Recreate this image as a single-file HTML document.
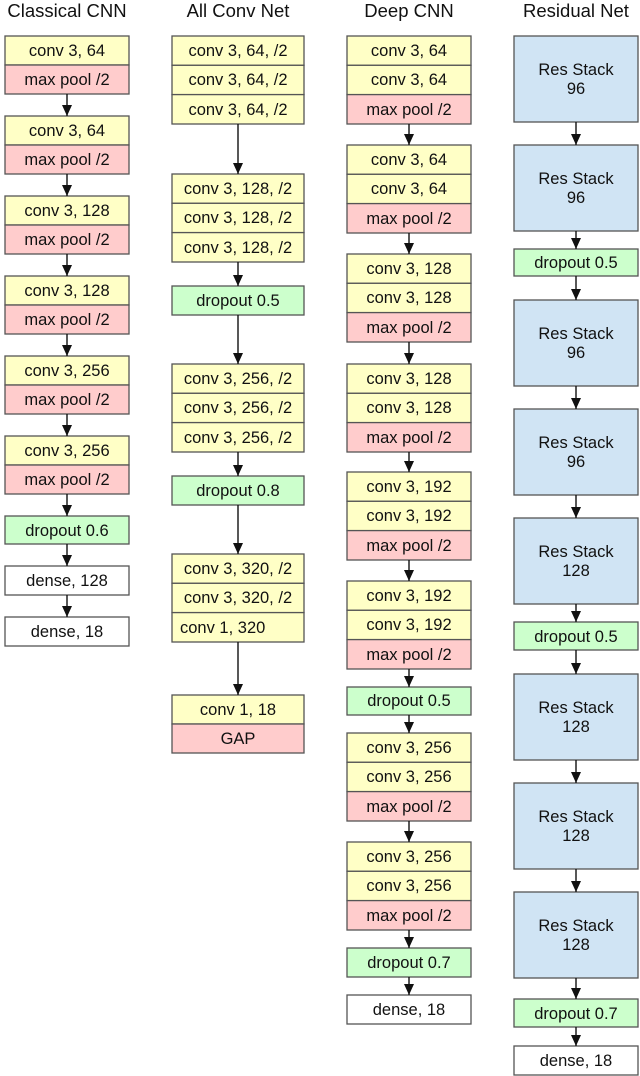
<!DOCTYPE html>
<html><head><meta charset="utf-8"><style>
html,body{margin:0;padding:0;background:#fff;}
svg{display:block;}
text{font-family:"Liberation Sans",Arial,sans-serif;font-size:16.5px;fill:#111;text-anchor:middle;}
.t{font-size:18.5px;}
.y{fill:#ffffc6;stroke:#555;stroke-width:1.3;}
.p{fill:#ffcccc;stroke:#555;stroke-width:1.3;}
.g{fill:#ccffcc;stroke:#555;stroke-width:1.3;}
.w{fill:#ffffff;stroke:#555;stroke-width:1.3;}
.b{fill:#d0e4f4;stroke:#555;stroke-width:1.3;}
.l{stroke:#111;stroke-width:1.4;}
</style></head><body>
<svg width="640" height="1076" viewBox="0 0 640 1076" xmlns="http://www.w3.org/2000/svg">
<defs><marker id="a" markerWidth="11" markerHeight="10" refX="11" refY="5" orient="auto" markerUnits="userSpaceOnUse"><path d="M0,0 L11,5 L0,10 z" fill="#111"/></marker></defs>
<text class="t" x="67" y="17">Classical CNN</text>
<text class="t" x="238" y="17">All Conv Net</text>
<text class="t" x="409" y="17">Deep CNN</text>
<text class="t" x="576" y="17">Residual Net</text>

<!-- Classical -->
<rect class="y" x="5" y="36" width="124" height="29"/><text x="67" y="56">conv 3, 64</text>
<rect class="p" x="5" y="65" width="124" height="29"/><text x="67" y="85">max pool /2</text>
<rect class="y" x="5" y="116" width="124" height="29"/><text x="67" y="136">conv 3, 64</text>
<rect class="p" x="5" y="145" width="124" height="29"/><text x="67" y="165">max pool /2</text>
<rect class="y" x="5" y="196" width="124" height="29"/><text x="67" y="216">conv 3, 128</text>
<rect class="p" x="5" y="225" width="124" height="29"/><text x="67" y="245">max pool /2</text>
<rect class="y" x="5" y="276" width="124" height="29"/><text x="67" y="296">conv 3, 128</text>
<rect class="p" x="5" y="305" width="124" height="29"/><text x="67" y="325">max pool /2</text>
<rect class="y" x="5" y="356" width="124" height="29"/><text x="67" y="376">conv 3, 256</text>
<rect class="p" x="5" y="385" width="124" height="29"/><text x="67" y="405">max pool /2</text>
<rect class="y" x="5" y="436" width="124" height="29"/><text x="67" y="456">conv 3, 256</text>
<rect class="p" x="5" y="465" width="124" height="29"/><text x="67" y="485">max pool /2</text>
<rect class="g" x="5" y="516" width="124" height="28"/><text x="67" y="536">dropout 0.6</text>
<rect class="w" x="5" y="566" width="124" height="29"/><text x="67" y="586">dense, 128</text>
<rect class="w" x="5" y="617" width="124" height="29"/><text x="67" y="637">dense, 18</text>
<line class="l" x1="67" y1="94" x2="67" y2="116" marker-end="url(#a)"/>
<line class="l" x1="67" y1="174" x2="67" y2="196" marker-end="url(#a)"/>
<line class="l" x1="67" y1="254" x2="67" y2="276" marker-end="url(#a)"/>
<line class="l" x1="67" y1="334" x2="67" y2="356" marker-end="url(#a)"/>
<line class="l" x1="67" y1="414" x2="67" y2="436" marker-end="url(#a)"/>
<line class="l" x1="67" y1="494" x2="67" y2="516" marker-end="url(#a)"/>
<line class="l" x1="67" y1="544" x2="67" y2="566" marker-end="url(#a)"/>
<line class="l" x1="67" y1="595" x2="67" y2="617" marker-end="url(#a)"/>

<!-- All Conv -->
<rect class="y" x="172" y="36" width="132" height="29.3"/><text x="238" y="56">conv 3, 64, /2</text>
<rect class="y" x="172" y="65.3" width="132" height="29.3"/><text x="238" y="85">conv 3, 64, /2</text>
<rect class="y" x="172" y="94.6" width="132" height="29.4"/><text x="238" y="115">conv 3, 64, /2</text>
<rect class="y" x="172" y="174" width="132" height="29.3"/><text x="238" y="194">conv 3, 128, /2</text>
<rect class="y" x="172" y="203.3" width="132" height="29.3"/><text x="238" y="223">conv 3, 128, /2</text>
<rect class="y" x="172" y="232.6" width="132" height="29.4"/><text x="238" y="253">conv 3, 128, /2</text>
<rect class="g" x="172" y="286" width="132" height="29"/><text x="238" y="306">dropout 0.5</text>
<rect class="y" x="172" y="364" width="132" height="29.3"/><text x="238" y="384">conv 3, 256, /2</text>
<rect class="y" x="172" y="393.3" width="132" height="29.3"/><text x="238" y="413">conv 3, 256, /2</text>
<rect class="y" x="172" y="422.6" width="132" height="29.4"/><text x="238" y="443">conv 3, 256, /2</text>
<rect class="g" x="172" y="476" width="132" height="29"/><text x="238" y="496">dropout 0.8</text>
<rect class="y" x="172" y="554" width="132" height="29.3"/><text x="238" y="574">conv 3, 320, /2</text>
<rect class="y" x="172" y="583.3" width="132" height="29.3"/><text x="238" y="603">conv 3, 320, /2</text>
<rect class="y" x="172" y="612.6" width="132" height="29.4"/><text x="180" y="633" style="text-anchor:start">conv 1, 320</text>
<rect class="y" x="172" y="695" width="132" height="29"/><text x="238" y="715">conv 1, 18</text>
<rect class="p" x="172" y="724" width="132" height="29"/><text x="238" y="744">GAP</text>
<line class="l" x1="238" y1="124" x2="238" y2="174" marker-end="url(#a)"/>
<line class="l" x1="238" y1="262" x2="238" y2="286" marker-end="url(#a)"/>
<line class="l" x1="238" y1="315" x2="238" y2="364" marker-end="url(#a)"/>
<line class="l" x1="238" y1="452" x2="238" y2="476" marker-end="url(#a)"/>
<line class="l" x1="238" y1="505" x2="238" y2="554" marker-end="url(#a)"/>
<line class="l" x1="238" y1="642" x2="238" y2="695" marker-end="url(#a)"/>

<!-- Deep CNN -->
<rect class="y" x="347" y="36" width="124" height="29.3"/><text x="409" y="56">conv 3, 64</text>
<rect class="y" x="347" y="65.3" width="124" height="29.3"/><text x="409" y="85">conv 3, 64</text>
<rect class="p" x="347" y="94.6" width="124" height="29.4"/><text x="409" y="115">max pool /2</text>
<rect class="y" x="347" y="145" width="124" height="29.3"/><text x="409" y="165">conv 3, 64</text>
<rect class="y" x="347" y="174.3" width="124" height="29.3"/><text x="409" y="194">conv 3, 64</text>
<rect class="p" x="347" y="203.6" width="124" height="29.4"/><text x="409" y="224">max pool /2</text>
<rect class="y" x="347" y="254" width="124" height="29.3"/><text x="409" y="274">conv 3, 128</text>
<rect class="y" x="347" y="283.3" width="124" height="29.3"/><text x="409" y="303">conv 3, 128</text>
<rect class="p" x="347" y="312.6" width="124" height="29.4"/><text x="409" y="333">max pool /2</text>
<rect class="y" x="347" y="364" width="124" height="29.3"/><text x="409" y="384">conv 3, 128</text>
<rect class="y" x="347" y="393.3" width="124" height="29.3"/><text x="409" y="413">conv 3, 128</text>
<rect class="p" x="347" y="422.6" width="124" height="29.4"/><text x="409" y="443">max pool /2</text>
<rect class="y" x="347" y="472" width="124" height="29.3"/><text x="409" y="492">conv 3, 192</text>
<rect class="y" x="347" y="501.3" width="124" height="29.3"/><text x="409" y="521">conv 3, 192</text>
<rect class="p" x="347" y="530.6" width="124" height="29.4"/><text x="409" y="551">max pool /2</text>
<rect class="y" x="347" y="581" width="124" height="29.3"/><text x="409" y="601">conv 3, 192</text>
<rect class="y" x="347" y="610.3" width="124" height="29.3"/><text x="409" y="630">conv 3, 192</text>
<rect class="p" x="347" y="639.6" width="124" height="29.4"/><text x="409" y="660">max pool /2</text>
<rect class="g" x="347" y="687" width="124" height="28"/><text x="409" y="706">dropout 0.5</text>
<rect class="y" x="347" y="733" width="124" height="29.3"/><text x="409" y="753">conv 3, 256</text>
<rect class="y" x="347" y="762.3" width="124" height="29.3"/><text x="409" y="782">conv 3, 256</text>
<rect class="p" x="347" y="791.6" width="124" height="29.4"/><text x="409" y="812">max pool /2</text>
<rect class="y" x="347" y="842" width="124" height="29.3"/><text x="409" y="862">conv 3, 256</text>
<rect class="y" x="347" y="871.3" width="124" height="29.3"/><text x="409" y="891">conv 3, 256</text>
<rect class="p" x="347" y="900.6" width="124" height="29.4"/><text x="409" y="921">max pool /2</text>
<rect class="g" x="347" y="948" width="124" height="29"/><text x="409" y="968">dropout 0.7</text>
<rect class="w" x="347" y="995" width="124" height="29"/><text x="409" y="1015">dense, 18</text>
<line class="l" x1="409" y1="124" x2="409" y2="145" marker-end="url(#a)"/>
<line class="l" x1="409" y1="233" x2="409" y2="254" marker-end="url(#a)"/>
<line class="l" x1="409" y1="342" x2="409" y2="364" marker-end="url(#a)"/>
<line class="l" x1="409" y1="452" x2="409" y2="472" marker-end="url(#a)"/>
<line class="l" x1="409" y1="560" x2="409" y2="581" marker-end="url(#a)"/>
<line class="l" x1="409" y1="669" x2="409" y2="687" marker-end="url(#a)"/>
<line class="l" x1="409" y1="715" x2="409" y2="733" marker-end="url(#a)"/>
<line class="l" x1="409" y1="821" x2="409" y2="842" marker-end="url(#a)"/>
<line class="l" x1="409" y1="930" x2="409" y2="948" marker-end="url(#a)"/>
<line class="l" x1="409" y1="977" x2="409" y2="995" marker-end="url(#a)"/>

<!-- Residual -->
<rect class="b" x="514" y="36" width="124" height="86"/><text x="576" y="75">Res Stack</text><text x="576" y="94">96</text>
<rect class="b" x="514" y="145" width="124" height="86"/><text x="576" y="184">Res Stack</text><text x="576" y="203">96</text>
<rect class="g" x="514" y="249" width="124" height="27"/><text x="576" y="268">dropout 0.5</text>
<rect class="b" x="514" y="300" width="124" height="86"/><text x="576" y="339">Res Stack</text><text x="576" y="358">96</text>
<rect class="b" x="514" y="409" width="124" height="86"/><text x="576" y="448">Res Stack</text><text x="576" y="467">96</text>
<rect class="b" x="514" y="518" width="124" height="86"/><text x="576" y="557">Res Stack</text><text x="576" y="576">128</text>
<rect class="g" x="514" y="622" width="124" height="28"/><text x="576" y="642">dropout 0.5</text>
<rect class="b" x="514" y="674" width="124" height="86"/><text x="576" y="713">Res Stack</text><text x="576" y="732">128</text>
<rect class="b" x="514" y="783" width="124" height="86"/><text x="576" y="822">Res Stack</text><text x="576" y="841">128</text>
<rect class="b" x="514" y="892" width="124" height="86"/><text x="576" y="931">Res Stack</text><text x="576" y="950">128</text>
<rect class="g" x="514" y="999" width="124" height="28"/><text x="576" y="1019">dropout 0.7</text>
<rect class="w" x="514" y="1046" width="124" height="29"/><text x="576" y="1066">dense, 18</text>
<line class="l" x1="576" y1="122" x2="576" y2="145" marker-end="url(#a)"/>
<line class="l" x1="576" y1="231" x2="576" y2="249" marker-end="url(#a)"/>
<line class="l" x1="576" y1="276" x2="576" y2="300" marker-end="url(#a)"/>
<line class="l" x1="576" y1="386" x2="576" y2="409" marker-end="url(#a)"/>
<line class="l" x1="576" y1="495" x2="576" y2="518" marker-end="url(#a)"/>
<line class="l" x1="576" y1="604" x2="576" y2="622" marker-end="url(#a)"/>
<line class="l" x1="576" y1="650" x2="576" y2="674" marker-end="url(#a)"/>
<line class="l" x1="576" y1="760" x2="576" y2="783" marker-end="url(#a)"/>
<line class="l" x1="576" y1="869" x2="576" y2="892" marker-end="url(#a)"/>
<line class="l" x1="576" y1="978" x2="576" y2="999" marker-end="url(#a)"/>
<line class="l" x1="576" y1="1027" x2="576" y2="1046" marker-end="url(#a)"/>
</svg>
</body></html>
